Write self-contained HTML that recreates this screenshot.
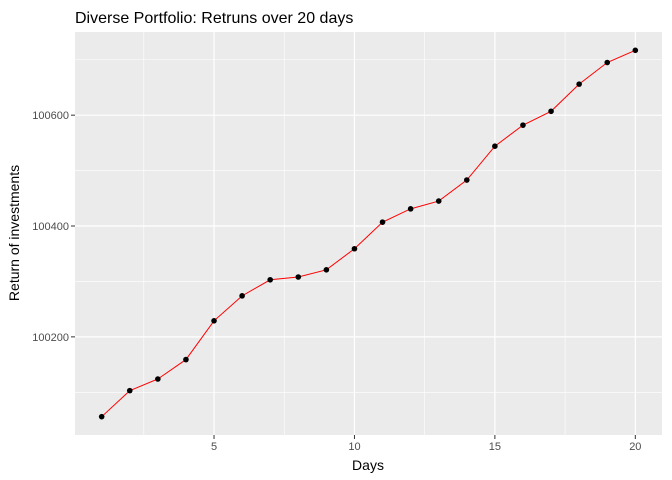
<!DOCTYPE html>
<html><head><meta charset="utf-8"><style>
body{margin:0;background:#fff;}
svg{display:block;font-family:"Liberation Sans",Arial,sans-serif;}
</style></head><body>
<svg id="chart" width="672" height="480">
<text x="75" y="23" font-size="16" fill="#000">Diverse Portfolio: Retruns over 20 days</text>
<rect x="75" y="32" width="587" height="403" fill="#ebebeb"/>
<g id="grid"></g>
<g id="series"></g>
<g id="axes"></g>
<text x="368" y="470" font-size="14" text-anchor="middle">Days</text>
<text x="19" y="233" font-size="14" text-anchor="middle" transform="rotate(-90 19 233)">Return of investments</text>
</svg>
<script>
const days=[1,2,3,4,5,6,7,8,9,10,11,12,13,14,15,16,17,18,19,20];
const returns=[100056,100103,100124,100159,100229,100274,100303,100308,100321,100359,100407,100431,100445,100483,100544,100582,100607,100656,100695,100717];
const xTicks=[5,10,15,20];
const xMinor=[2.5,7.5,12.5,17.5];
const yTicks=[100200,100400,100600];
const yMinor=[100100,100300,100500,100700];
const NS="http://www.w3.org/2000/svg";
const L=75,R=662,T=32,B=435;
const xMin=Math.min(...days),xMax=Math.max(...days),xr=xMax-xMin;
const yMin=Math.min(...returns),yMax=Math.max(...returns),yr=yMax-yMin;
const x0=xMin-xr*0.05,x1=xMax+xr*0.05,y0=yMin-yr*0.05,y1=yMax+yr*0.05;
const sx=v=>L+(v-x0)/(x1-x0)*(R-L);
const sy=v=>B-(v-y0)/(y1-y0)*(B-T);
function mk(tag,attrs,parent){const e=document.createElementNS(NS,tag);for(const k in attrs)e.setAttribute(k,attrs[k]);parent.appendChild(e);return e;}
const grid=document.getElementById('grid'),axes=document.getElementById('axes'),series=document.getElementById('series');
xMinor.forEach(v=>{const e=mk('line',{x1:sx(v),x2:sx(v),y1:T,y2:B,stroke:'#fff','stroke-width':0.6},grid);

});
yMinor.forEach(v=>{const e=mk('line',{x1:L,x2:R,y1:sy(v),y2:sy(v),stroke:'#fff','stroke-width':0.6},grid);

});
xTicks.forEach(v=>{const e=mk('line',{x1:sx(v),x2:sx(v),y1:T,y2:B,stroke:'#fff','stroke-width':1.2},grid);


const t=mk('line',{x1:sx(v),x2:sx(v),y1:B,y2:B+4,stroke:'#333'},axes);


const l=mk('text',{x:sx(v),y:B+15,'font-size':11,fill:'#4d4d4d','text-anchor':'middle'},axes);l.textContent=v;

});
yTicks.forEach(v=>{const e=mk('line',{x1:L,x2:R,y1:sy(v),y2:sy(v),stroke:'#fff','stroke-width':1.2},grid);


const t=mk('line',{x1:L-4,x2:L,y1:sy(v),y2:sy(v),stroke:'#333'},axes);


const l=mk('text',{x:L-6,y:sy(v)+4,'font-size':11,fill:'#4d4d4d','text-anchor':'end'},axes);l.textContent=v;

});
const line=mk('polyline',{points:days.map((d,i)=>sx(d)+','+sy(returns[i])).join(' '),fill:'none',stroke:'red','stroke-width':1},series);


days.forEach((d,i)=>{const c=mk('circle',{cx:sx(d),cy:sy(returns[i]),r:2.8,fill:'#000'},series);

});
</script>
</body></html>
